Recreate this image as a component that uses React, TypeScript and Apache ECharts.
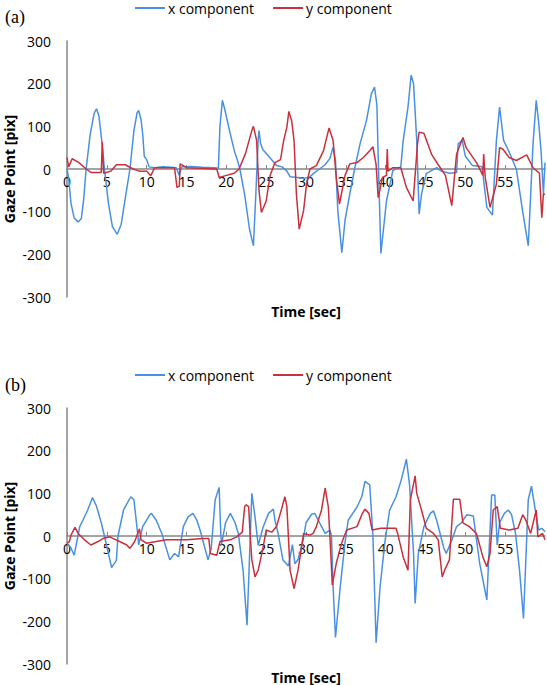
import React, { useEffect, useRef } from "react";
import * as echarts from "echarts";

// Panel (a) x component
const aXt = [0,0.2,0.5,0.9,1.4,1.8,2.1,2.4,2.9,3.4,3.7,4.0,4.4,4.7,5.2,5.7,6.3,6.8,7.3,7.9,8.4,8.8,9.0,9.3,9.5,9.7,10.0,10.3,11.0,12.0,13.0,13.7,14.1,14.4,15.5,17.0,18.5,19.0,19.2,19.5,19.8,20.4,21.0,21.4,21.7,22.3,22.9,23.4,23.7,24.0,24.1,24.3,24.6,25.4,26.3,27.0,27.6,28.0,29.0,29.8,30.5,31.1,31.7,32.4,33.0,33.4,33.7,34.0,34.5,34.9,35.5,36.1,36.8,37.6,38.2,38.6,38.9,39.1,39.4,40.1,40.9,41.5,41.9,42.2,42.8,43.2,43.5,43.9,44.2,44.5,45.1,46.4,47.0,48.0,48.9,49.1,49.6,50.0,50.9,52.1,52.7,53.4,53.9,54.3,54.8,55.4,56.4,57.2,57.9,58.5,58.9,59.2,59.5,59.8,60];
const aXv = [0,-20,-80,-115,-124,-116,-70,0,80,130,141,125,60,0,-80,-135,-153,-130,-70,0,90,132,137,115,82,30,22,5,3,5,4,3,-15,5,6,4,3,2,100,161,140,90,43,20,0,-60,-140,-180,-60,70,90,60,45,28,8,5,-5,-18,-20,-22,-18,-8,0,10,25,51,20,-100,-196,-120,-58,0,60,114,176,192,150,0,-198,-75,-4,2,5,67,145,220,200,67,-106,-59,-11,3,-5,-10,-8,59,67,30,8,5,-90,-108,67,145,67,44,0,-100,-180,60,161,110,44,-58,15];

// Panel (a) y component
const aYt = [0,0.2,0.65,1.5,2.4,3.0,4.3,4.43,4.6,5.5,6.2,7.3,8.3,9.1,10.0,10.5,11.0,13.5,13.8,14.1,14.2,15.0,18.8,19.1,20.0,21.0,21.6,22.4,23.2,23.4,23.8,24.1,24.4,25.0,25.5,26.1,26.8,27.2,27.6,27.85,28.2,28.5,28.8,29.15,29.7,30.07,30.5,31.3,32.2,32.6,32.9,33.4,33.8,34.2,34.9,35.5,36.4,37.2,38.0,38.4,38.8,39.06,39.6,40.1,40.2,40.3,40.9,41.9,42.6,43.45,44.0,44.2,44.8,45.8,46.6,47.5,48.3,48.9,49.7,50.1,51.4,52.2,52.3,52.5,53.1,53.9,54.3,54.7,55.5,56.4,57.7,58.5,59.3,59.6,59.8,60];
const aYv = [27,5,24,15,0,-8,-8,63,-10,-5,10,10,0,-5,-5,-16,3,3,-43,-40,12,3,0,-20,-15,-10,0,36,90,100,67,-50,-102,-75,-15,15,22,67,98,135,113,67,-60,-141,-97,-35,0,8,43,74,96,67,-20,-82,-15,12,15,27,43,52,10,-67,-20,-15,47,-5,3,3,-43,-75,60,86,84,33,10,-15,-86,35,74,50,15,-15,35,-20,-90,-35,50,47,27,20,33,3,-10,-114,-58,-60];

// Panel (b) x component
const bXt = [0,0.5,0.9,1.6,2.0,2.6,3.2,3.7,4.3,4.7,5.6,6.2,6.4,7.1,8.0,8.4,8.9,9.0,9.5,10.4,10.6,11.2,11.9,12.9,13.5,14.0,14.6,15.2,15.8,16.3,16.7,17.7,18.1,18.6,19.1,19.3,19.4,19.9,20.5,21.1,21.5,22.1,22.6,23.2,23.6,24.0,24.6,25.3,25.9,26.1,26.5,27.1,27.8,28.3,28.6,29.0,29.65,30.0,30.7,31.1,31.7,32.4,33.0,33.2,33.4,33.7,34.3,34.9,35.3,36.4,37.0,37.4,38.0,38.4,38.8,39.3,39.9,40.5,41.3,41.95,42.6,43.0,43.5,43.7,44.1,44.8,45.6,46.0,46.4,47.3,47.6,48.3,48.9,49.5,50.2,51.0,51.8,52.7,53.3,53.7,54.0,54.3,54.9,55.4,55.8,56.3,56.8,57.3,57.9,58.3,58.7,59.2,59.6,60];
const bXv = [-17,-28,-45,22,37,61,90,70,31,0,-74,-57,0,61,92,85,0,-21,22,50,53,37,6,-56,-41,-49,22,45,53,37,14,-56,-30,85,114,6,-20,31,53,31,6,-80,-209,100,45,-22,20,53,63,37,6,-56,-70,-20,-65,-55,-9,31,51,53,31,6,14,0,-119,-238,-119,-15,37,68,92,128,120,0,-250,-119,-15,61,92,131,180,120,-41,-158,-41,22,53,59,37,-28,-41,-10,22,31,50,47,-64,-150,96,96,-21,31,53,61,50,6,-80,-193,85,117,70,14,18,10];

// Panel (b) y component
const bYt = [0,0.3,0.5,1.0,1.4,2.2,3.0,3.9,4.5,5.4,5.8,6.6,7.5,7.9,8.5,9.1,9.3,10.0,11.2,12.5,15.0,17.1,17.8,18.0,18.8,19.2,20.5,21.3,22.0,22.3,22.5,22.8,23.0,23.2,23.6,24.0,24.6,25.0,25.7,26.3,26.9,27.35,27.6,28.0,28.5,29.0,29.7,30.5,30.9,31.3,31.95,32.4,32.8,33.0,33.3,33.8,34.5,35.1,36.4,37.0,37.4,37.9,38.3,39.4,41.3,41.5,42.2,42.8,43.1,43.7,43.9,44.5,45.1,46.0,46.6,47.1,47.4,48.0,48.5,49.3,49.7,50.5,51.4,52.2,52.7,53.1,53.5,54.0,54.4,55.5,56.6,57.2,57.6,58.2,58.9,59.1,59.7,60];
const bYv = [-17,-13,2,20,6,-9,-21,-13,-6,-2,-6,-13,-21,-29,-13,17,-9,-17,-13,-9,-9,-6,-6,-41,-45,-13,-9,-2,9,69,73,69,0,-56,-96,-80,-28,14,9,22,61,92,69,-80,-123,-80,6,2,6,22,61,112,68,0,-115,-64,-15,14,22,50,63,53,14,18,18,6,-49,-80,85,141,100,61,18,6,-9,-96,-80,-56,86,86,31,22,6,-49,-72,-41,61,69,18,14,18,50,37,6,61,-2,6,-9];

const yTicks = [-300, -200, -100, 0, 100, 200, 300];
const xTickStep = 5;

const seriesNames = ["x component", "y component"];
const BLUE = "#4a90e2";
const RED = "#c8303c";
const FONT = "Open Sans";

const zip = (t: number[], v: number[]) => t.map((x, i) => [x, v[i]]);

export default function App() {
  const ref = useRef<HTMLDivElement>(null);
  useEffect(() => {
    document.body.style.margin = "0";
    const chart = echarts.init(ref.current!, null, { renderer: "svg" });
    const H = 256;
    const tops = [41, 408];
    const grids = [
      ...tops.map((t) => ({ left: 67, right: 2, top: t, height: H })),
      // helper grids whose bottom edge sits on the zero line: carry the x axis
      ...tops.map((t) => ({ left: 67, right: 2, top: t, height: H / 2 })),
    ];
    const xAxis = grids.map((_, i) => {
      const helper = i >= 2;
      return {
        type: "value",
        gridIndex: i,
        min: 0,
        max: 60,
        interval: xTickStep,
        show: helper,
        axisLine: { show: helper, onZero: false, lineStyle: { color: "#868686", width: 1.5 } },
        axisTick: { show: helper, inside: true, length: 4, lineStyle: { color: "#868686" } },
        axisLabel: { show: helper, margin: 5, color: "#000", fontFamily: FONT, fontSize: 14, showMaxLabel: false },
        splitLine: { show: false },
      };
    });
    const yAxis = grids.map((_, i) => {
      const helper = i >= 2;
      return {
        type: "value",
        gridIndex: i,
        min: helper ? 0 : yTicks[0],
        max: helper ? 1 : yTicks[yTicks.length - 1],
        interval: helper ? 1 : 100,
        show: !helper,
        axisLine: { show: !helper, onZero: false, lineStyle: { color: "#868686", width: 1.5 } },
        axisTick: { show: false },
        axisLabel: { show: !helper, margin: 16, color: "#000", fontFamily: FONT, fontSize: 14 },
        splitLine: { show: false },
      };
    });
    const mk = (name: string, color: string, data: number[][], idx: number) => ({
      name,
      type: "line",
      xAxisIndex: idx,
      yAxisIndex: idx,
      data,
      showSymbol: false,
      symbol: "none",
      z: 3,
      lineStyle: { color, width: 1.5 },
      itemStyle: { color },
    });
    const legendBase = {
      left: 135,
      padding: 0,
      itemWidth: 30,
      itemHeight: 2,
      itemGap: 19,
      icon: "rect",
      textStyle: { fontFamily: FONT, fontSize: 14, color: "#000", padding: [0, 0, 0, -2] },
      data: seriesNames,
    };
    const titleText = (text: string, x: number, y: number, rot = 0) => ({
      type: "text",
      x,
      y,
      rotation: rot,
      style: {
        text,
        fontFamily: FONT,
        fontWeight: "bold",
        fontSize: 14,
        fill: "#000",
        textAlign: "center",
        textVerticalAlign: "middle",
      },
    });
    const panelLabel = (text: string, y: number) => ({
      type: "text",
      x: 5,
      y,
      style: {
        text,
        fontFamily: "Liberation Serif",
        fontSize: 18,
        fill: "#000",
        textAlign: "left",
        textVerticalAlign: "middle",
      },
    });
    chart.setOption({
      animation: false,
      grid: grids,
      xAxis,
      yAxis,
      legend: [
        { ...legendBase, top: 1 },
        { ...legendBase, top: 368 },
      ],
      series: [
        mk(seriesNames[0], BLUE, zip(aXt, aXv), 0),
        mk(seriesNames[1], RED, zip(aYt, aYv), 0),
        mk(seriesNames[0], BLUE, zip(bXt, bXv), 1),
        mk(seriesNames[1], RED, zip(bYt, bYv), 1),
      ],
      graphic: [
        panelLabel("(a)", 17),
        panelLabel("(b)", 385),
        titleText("Time [sec]", 306, 311),
        titleText("Time [sec]", 306, 677),
        titleText("Gaze Point [pix]", 9, 169, Math.PI / 2),
        titleText("Gaze Point [pix]", 9, 536, Math.PI / 2),
      ],
    });
    return () => chart.dispose();
  }, []);
  return <div ref={ref} style={{ width: 547, height: 685 }} />;
}
